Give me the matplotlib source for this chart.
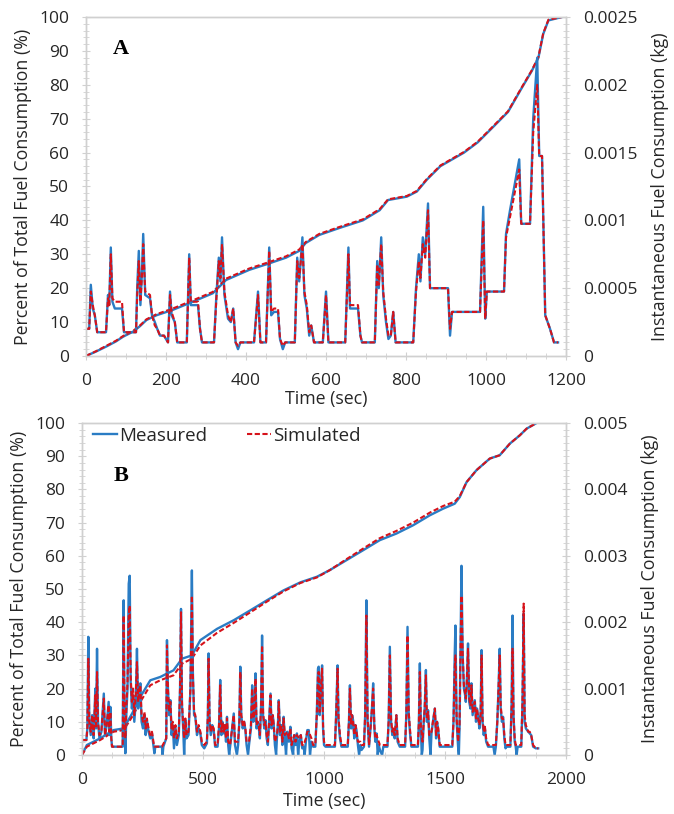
import matplotlib.pyplot as plt
import numpy as np
from matplotlib.ticker import FuncFormatter, MultipleLocator

plt.rcParams['font.family'] = ['Open Sans', 'DejaVu Sans']

# --- Painel A: consumo acumulado (%) -> (tempo s, %)
cum_a_meas = [(0, 0), (25, 1.3), (51, 2.8), (75, 4.3), (93, 5.7), (118, 7.2), (135, 8.8),
              (151, 10.6), (176, 12), (217, 13.6), (267, 16), (317, 18.5), (334, 20.5),
              (350, 22.4), (408, 25.4), (450, 27), (500, 29), (533, 31), (549, 33.3),
              (583, 35.7), (632, 37.7), (692, 40), (734, 43), (755, 46), (802, 47),
              (827, 48.5), (852, 52), (886, 56), (945, 60), (979, 63), (1013, 67),
              (1055, 72), (1089, 79), (1114, 84), (1131, 88), (1143, 95), (1156, 99),
              (1190, 100)]
cum_a_sim = [(0, 0), (25, 1.4), (51, 3.0), (75, 4.5), (93, 5.9), (118, 7.4), (135, 9.0),
             (151, 10.8), (176, 12.3), (217, 14.0), (267, 16.4), (317, 18.9), (334, 20.9),
             (350, 22.8), (408, 25.8), (450, 27.4), (500, 29.4), (533, 31.4), (549, 33.6),
             (583, 36.0), (632, 38.0), (692, 40.3), (734, 43.3), (755, 46.2), (802, 47.2),
             (827, 48.7), (852, 52.2), (886, 56.2), (945, 60.2), (979, 63.2), (1013, 67.2),
             (1055, 72.2), (1089, 79.2), (1114, 84.2), (1131, 88.2), (1143, 95.2),
             (1156, 99.2), (1190, 100)]

# --- Painel A: consumo instantaneo -> (tempo s, kg x 1e-4)
inst_a_meas = [(0, 2.0), (8, 2.0), (12, 5.25), (17, 3.5), (22, 3.0), (28, 1.75), (50, 1.75),
               (55, 4.5), (58, 3.75), (62, 8.0), (66, 4.0), (72, 3.5), (90, 3.5), (95, 1.75),
               (125, 1.75), (128, 5.0), (132, 7.75), (136, 3.75), (140, 6.25), (143, 9.0),
               (148, 4.5), (160, 4.25), (165, 3.0), (172, 2.5), (178, 2.0), (185, 1.5),
               (195, 1.5), (200, 1.25), (205, 1.0), (210, 4.75), (214, 3.0), (222, 2.5),
               (228, 1.0), (252, 1.0), (258, 7.5), (262, 3.75), (280, 3.75), (285, 2.0),
               (290, 1.0), (320, 1.0), (326, 4.5), (332, 7.25), (336, 5.5), (340, 8.75),
               (346, 4.5), (355, 2.75), (362, 2.5), (368, 3.5), (374, 1.0), (380, 0.5),
               (386, 1.0), (420, 1.0), (430, 4.75), (436, 1.0), (450, 1.0), (458, 8.0),
               (463, 3.0), (470, 3.25), (480, 3.25), (485, 1.25), (492, 0.5), (498, 1.0),
               (522, 1.0), (528, 7.25), (533, 5.5), (541, 8.75), (546, 4.5), (552, 3.5),
               (558, 1.5), (563, 2.25), (570, 1.0), (592, 1.0), (600, 4.75), (606, 1.0),
               (648, 1.0), (656, 8.0), (660, 3.5), (680, 3.5), (686, 1.5), (690, 1.0),
               (722, 1.0), (728, 7.0), (732, 5.0), (738, 8.75), (743, 4.5), (750, 2.5),
               (756, 1.25), (762, 1.5), (768, 3.25), (774, 1.0), (818, 1.0), (825, 5.0),
               (832, 7.5), (836, 5.5), (842, 8.75), (848, 7.5), (855, 11.25), (860, 5.0),
               (905, 5.0), (910, 1.5), (915, 3.25), (985, 3.25), (993, 11.0), (998, 2.75),
               (1002, 4.75), (1045, 4.75), (1050, 9.0), (1060, 10.75), (1083, 14.5),
               (1088, 9.75), (1110, 9.75), (1118, 17.5), (1128, 22.0), (1133, 14.75),
               (1140, 14.75), (1148, 3.0), (1160, 2.0), (1170, 1.0), (1180, 1.0)]
inst_a_sim = [(0, 2.0), (8, 2.0), (12, 4.75), (17, 3.75), (22, 3.0), (28, 1.75), (50, 1.75),
              (55, 4.25), (58, 3.75), (62, 7.5), (66, 4.25), (72, 4.0), (90, 4.0), (95, 1.75),
              (125, 1.75), (128, 4.5), (132, 7.0), (136, 4.0), (140, 6.0), (143, 8.25),
              (148, 4.75), (160, 4.5), (165, 3.0), (172, 2.25), (178, 2.0), (185, 1.5),
              (195, 1.5), (200, 1.25), (205, 1.0), (210, 4.5), (214, 3.25), (222, 2.5),
              (228, 1.0), (252, 1.0), (258, 7.25), (262, 4.0), (280, 4.0), (285, 2.0),
              (290, 1.0), (320, 1.0), (326, 4.25), (332, 7.0), (336, 5.75), (340, 8.25),
              (346, 4.75), (355, 3.0), (362, 2.5), (368, 3.5), (374, 1.0), (380, 0.75),
              (386, 1.0), (420, 1.0), (430, 4.5), (436, 1.0), (450, 1.0), (458, 7.75),
              (463, 3.25), (470, 3.5), (480, 3.5), (485, 1.25), (492, 0.75), (498, 1.0),
              (522, 1.0), (528, 7.0), (533, 5.75), (541, 8.25), (546, 4.75), (552, 3.75),
              (558, 1.75), (563, 2.25), (570, 1.0), (592, 1.0), (600, 4.5), (606, 1.0),
              (648, 1.0), (656, 7.5), (660, 3.75), (680, 3.75), (686, 1.5), (690, 1.0),
              (722, 1.0), (728, 6.75), (732, 5.25), (738, 8.25), (743, 4.75), (750, 2.75),
              (756, 1.5), (762, 1.5), (768, 3.25), (774, 1.0), (818, 1.0), (825, 4.75),
              (832, 7.0), (836, 5.75), (842, 8.25), (848, 7.25), (855, 10.75), (860, 5.0),
              (905, 5.0), (910, 2.0), (915, 3.25), (985, 3.25), (993, 10.0), (998, 2.75),
              (1002, 4.75), (1045, 4.75), (1050, 8.75), (1060, 10.25), (1083, 13.75),
              (1088, 9.75), (1110, 9.75), (1118, 16.5), (1128, 20.0), (1133, 14.75),
              (1140, 14.75), (1148, 3.0), (1160, 2.0), (1170, 1.0), (1180, 1.0)]

# --- Painel B: consumo acumulado (%)
cum_b_meas = [(0, 0), (20, 3), (75, 5), (130, 7.5), (172, 8), (207, 12.5), (241, 17.5),
              (282, 22.5), (323, 23.5), (378, 25.5), (413, 29), (454, 30), (489, 34.6),
              (558, 38), (627, 40.6), (696, 43.6), (764, 46.6), (833, 49.6), (902, 52),
              (971, 53.7), (1024, 55.7), (1093, 58.7), (1162, 61.7), (1230, 64.7),
              (1299, 66.7), (1368, 69.2), (1437, 72.2), (1492, 74.2), (1540, 75.7),
              (1561, 77.7), (1589, 82.2), (1630, 85.8), (1685, 89.3), (1726, 90.3),
              (1768, 93.8), (1809, 96.3), (1837, 98.3), (1878, 100)]
cum_b_sim = [(0, 0), (20, 2.5), (75, 4.5), (130, 7), (172, 7.5), (207, 11.5), (241, 16),
             (282, 21), (323, 22.5), (378, 24), (413, 27.5), (454, 29), (489, 33),
             (558, 36.8), (627, 39.8), (696, 43), (764, 46.2), (833, 49.3), (902, 51.8),
             (971, 53.5), (1024, 55.7), (1093, 59), (1162, 62.2), (1230, 65.3),
             (1299, 67.5), (1368, 70), (1437, 73), (1492, 75), (1540, 76.3), (1561, 78),
             (1589, 82.2), (1630, 85.8), (1685, 89.3), (1726, 90.3), (1768, 93.8),
             (1809, 96.3), (1837, 98.3), (1878, 100)]

# --- Painel B: consumo instantaneo (kg x 1e-4)
inst_b_meas = [(0, 2.25), (18, 2.25), (22, 4), (26, 17.8), (30, 5), (36, 3), (42, 6), (48, 2.5),
               (55, 10), (58, 4), (62, 16), (66, 5), (72, 2.5), (80, 3.5), (90, 9.25), (95, 3),
               (102, 4.5), (110, 8), (113, 3), (117, 7.25), (121, 2.5), (124, 1.25),
               (168, 1.25), (172, 23.3), (176, 4), (179, 0.25), (183, 6), (188, 10),
               (193, 25.8), (197, 27), (201, 11), (206, 7), (211, 9), (216, 5), (222, 8),
               (227, 16), (232, 7), (237, 9), (241, 10.8), (246, 5), (252, 4), (258, 6),
               (263, 3), (268, 5.25), (275, 3.5), (282, 2.5), (289, 3.25), (295, 1.5),
               (299, 0.25), (303, 1.25), (330, 1.25), (333, 0), (336, 1.25), (348, 2.5),
               (351, 17.3), (355, 10), (360, 6), (365, 8.25), (370, 3), (375, 4.5), (380, 1),
               (386, 4.25), (392, 1.5), (400, 3), (405, 10), (409, 22), (413, 7.5), (418, 4),
               (422, 0), (427, 5.25), (432, 2.5), (440, 3), (448, 10), (454, 27.8),
               (458, 12.5), (463, 6), (468, 5.75), (475, 3), (482, 4), (489, 3.25),
               (495, 1.5), (505, 1), (516, 1.75), (520, 6), (523, 15.3), (527, 5), (532, 3),
               (538, 4.5), (544, 3.75), (550, 1.25), (560, 1.25), (566, 4), (571, 11.3),
               (576, 3), (580, 5), (585, 3.25), (590, 4.5), (595, 2), (599, 5.75), (604, 1.5),
               (608, 0), (612, 1.25), (620, 4), (627, 6.25), (632, 1.5), (640, 0), (645, 1.5),
               (650, 5), (654, 13.3), (658, 6), (664, 4), (670, 5), (675, 3.75), (680, 1.5),
               (686, 0), (690, 1.5), (698, 4), (703, 10.5), (708, 5), (713, 7), (717, 12.3),
               (721, 4), (726, 5), (730, 4.25), (735, 2.5), (740, 7.5), (744, 18), (748, 6),
               (753, 4), (758, 5.25), (763, 2.5), (768, 1.5), (773, 5), (779, 9.25), (783, 4),
               (788, 6), (792, 4.75), (797, 1.5), (802, 0), (806, 3), (810, 5), (813, 8.25),
               (818, 3), (823, 4.5), (828, 1.5), (833, 5.75), (838, 2.5), (843, 0), (848, 3.5),
               (855, 2), (861, 4.25), (866, 1), (872, 0), (877, 3), (882, 1.5), (888, 3.25),
               (893, 0), (898, 2), (904, 3), (910, 1), (916, 1.25), (920, 0), (925, 2),
               (931, 3.75), (937, 3.75), (942, 0), (948, 2), (955, 1.25), (964, 1.25),
               (970, 6), (975, 13), (978, 13.3), (982, 6), (987, 10), (992, 13.5), (996, 4),
               (1000, 1.5), (1006, 1.25), (1045, 1.25), (1050, 6), (1056, 13.5), (1060, 5),
               (1066, 2.5), (1072, 1.25), (1098, 1.25), (1103, 5), (1107, 10.5), (1112, 4),
               (1116, 6), (1120, 5.25), (1125, 2.5), (1130, 4.5), (1134, 3.75), (1140, 1.5),
               (1145, 0), (1150, 1.5), (1155, 0.75), (1165, 1.25), (1170, 6), (1175, 23.3),
               (1180, 5), (1186, 1.25), (1192, 4), (1198, 7), (1203, 10.8), (1208, 4),
               (1212, 2), (1217, 3.25), (1222, 0), (1226, 1.5), (1231, 0.75), (1240, 0),
               (1245, 1.25), (1262, 1.25), (1267, 5), (1272, 16.3), (1277, 5), (1282, 3),
               (1286, 3.75), (1292, 2.5), (1299, 6), (1304, 2), (1313, 1.25), (1335, 1.25),
               (1340, 6), (1345, 19.3), (1350, 6), (1356, 3), (1361, 1.25), (1388, 1.25),
               (1392, 5), (1396, 13.8), (1400, 4), (1404, 0), (1407, 0.75), (1412, 5),
               (1416, 7), (1421, 12.8), (1425, 5), (1430, 6.75), (1435, 2.5), (1440, 0),
               (1444, 3.25), (1450, 5), (1458, 7), (1463, 2.5), (1467, 5), (1472, 3.75),
               (1478, 1.25), (1530, 1.25), (1535, 5), (1540, 15), (1543, 19.5), (1548, 5),
               (1554, 1.25), (1557, 0), (1560, 4), (1565, 20), (1568, 28.5), (1573, 15),
               (1578, 10), (1582, 9.25), (1586, 8), (1590, 11), (1595, 16.8), (1600, 8),
               (1605, 7), (1609, 10.8), (1614, 6), (1618, 7), (1623, 8.25), (1628, 5),
               (1632, 7), (1637, 5.75), (1642, 4), (1647, 6), (1651, 15.8), (1655, 5),
               (1660, 3), (1664, 4.25), (1670, 2), (1678, 1.25), (1700, 1.25), (1705, 0),
               (1710, 1.25), (1716, 5), (1721, 10), (1726, 16), (1730, 7), (1735, 5),
               (1740, 5.75), (1745, 2.5), (1750, 1), (1754, 1.25), (1770, 1.25), (1775, 7.5),
               (1779, 21), (1783, 6), (1788, 2), (1792, 1.25), (1796, 0), (1800, 1.25),
               (1815, 1.25), (1820, 7.5), (1825, 21.3), (1829, 5), (1834, 4), (1839, 3.75),
               (1844, 3.5), (1850, 3.25), (1856, 3), (1864, 1.25), (1875, 1), (1885, 1)]
inst_b_sim = [(0, 2.25), (18, 2.25), (22, 4), (26, 14.5), (30, 5), (36, 3.5), (42, 6), (48, 3),
              (55, 9), (58, 4), (62, 12.5), (66, 5), (72, 3), (80, 3.5), (90, 8.5), (95, 3),
              (102, 4.5), (110, 7.5), (113, 3.5), (117, 6.5), (121, 2.5), (124, 1.25),
              (168, 1.25), (172, 21), (176, 5), (179, 2.5), (183, 7), (188, 11),
              (193, 21), (197, 22.5), (201, 12), (206, 8), (211, 10), (216, 6), (222, 9),
              (227, 14), (232, 8), (237, 10), (241, 10.5), (246, 6), (252, 5), (258, 6.5),
              (263, 4), (268, 5.5), (275, 4), (282, 3), (289, 3.5), (295, 2), (299, 1.25),
              (330, 1.25), (348, 2.5), (351, 16.5), (355, 10), (360, 6.5), (365, 8),
              (370, 4), (375, 5), (380, 2.5), (386, 4.5), (392, 2.5), (400, 3.5), (405, 10),
              (409, 21.5), (413, 8), (418, 4.5), (422, 2.5), (427, 5.5), (432, 3), (440, 3.5),
              (448, 10), (454, 24), (458, 12), (463, 6.5), (468, 6), (475, 3.5), (482, 4.5),
              (489, 3.5), (495, 2), (505, 1.5), (516, 2), (520, 6), (523, 14.5), (527, 5.5),
              (532, 3.5), (538, 4.5), (544, 4), (550, 1.5), (560, 1.5), (566, 4.5),
              (571, 10.5), (576, 3.5), (580, 5), (585, 3.5), (590, 4.5), (595, 2.5),
              (599, 5.5), (604, 2), (612, 1.5), (620, 4), (627, 6), (632, 2), (645, 2),
              (650, 5), (654, 12.5), (658, 6), (664, 4.5), (670, 5), (675, 4), (680, 2),
              (690, 2), (698, 4.5), (703, 10), (708, 5.5), (713, 7), (717, 11.5), (721, 4.5),
              (726, 5), (730, 4.5), (735, 3), (740, 7.5), (744, 16.5), (748, 6.5), (753, 4.5),
              (758, 5), (763, 3), (768, 2), (773, 5), (779, 9), (783, 4.5), (788, 6),
              (792, 4.5), (797, 2), (806, 3), (810, 5), (813, 8), (818, 3.5), (823, 4.5),
              (828, 2), (833, 5.5), (838, 3), (848, 3.5), (855, 2.5), (861, 4), (866, 1.5),
              (877, 3), (882, 2), (888, 3), (898, 2.5), (904, 3), (910, 1.5), (916, 1.5),
              (925, 2.5), (931, 3.5), (937, 3.5), (948, 2.5), (955, 1.5), (964, 1.5),
              (970, 6), (975, 12), (978, 12.5), (982, 6.5), (987, 10), (992, 13), (996, 4.5),
              (1000, 2), (1006, 1.5), (1045, 1.5), (1050, 6), (1056, 13), (1060, 5.5),
              (1066, 3), (1072, 1.5), (1098, 1.5), (1103, 5), (1107, 10), (1112, 4.5),
              (1116, 6), (1120, 5), (1125, 3), (1130, 4.5), (1134, 3.5), (1140, 2),
              (1150, 2), (1155, 1.5), (1165, 1.5), (1170, 6), (1175, 21), (1180, 5.5),
              (1186, 1.5), (1192, 4), (1198, 7), (1203, 10), (1208, 4.5), (1212, 2.5),
              (1217, 3), (1226, 2), (1231, 1.5), (1245, 1.5), (1262, 1.5), (1267, 5),
              (1272, 15), (1277, 5.5), (1282, 3.5), (1286, 4), (1292, 3), (1299, 6),
              (1304, 2.5), (1313, 1.5), (1335, 1.5), (1340, 6), (1345, 18), (1350, 6.5),
              (1356, 3.5), (1361, 1.5), (1388, 1.5), (1392, 5), (1396, 12.5), (1400, 4.5),
              (1407, 2), (1412, 5), (1416, 7), (1421, 12), (1425, 5.5), (1430, 6.5),
              (1435, 3), (1444, 3.5), (1450, 5), (1458, 7), (1463, 3), (1467, 5),
              (1472, 4), (1478, 1.5), (1530, 1.5), (1535, 5), (1540, 13), (1543, 15),
              (1548, 5.5), (1554, 2), (1560, 4.5), (1565, 18), (1568, 24), (1573, 15),
              (1578, 10.5), (1582, 9.5), (1586, 8.5), (1590, 11), (1595, 16), (1600, 8.5),
              (1605, 7.5), (1609, 10.5), (1614, 6.5), (1618, 7), (1623, 8), (1628, 5.5),
              (1632, 7), (1637, 5.5), (1642, 4.5), (1647, 6), (1651, 15), (1655, 5.5),
              (1660, 3.5), (1664, 4.5), (1670, 2.5), (1678, 1.5), (1700, 1.5), (1710, 1.5),
              (1716, 5), (1721, 10), (1726, 15), (1730, 7.5), (1735, 5.5), (1740, 5.5),
              (1745, 3), (1750, 1.5), (1770, 1.5), (1775, 7), (1779, 16), (1783, 6),
              (1788, 2.5), (1792, 1.5), (1800, 1.5), (1815, 1.5), (1820, 8), (1825, 22.8),
              (1829, 6), (1834, 4.5), (1839, 4), (1844, 3.5), (1850, 3.5), (1856, 3),
              (1864, 1.5), (1875, 1), (1885, 1)]

AZUL = '#2a7cc4'
VERMELHO = '#d6121a'
CINZA = '#d0d0d0'
TEXTO = '#262626'
TRACO = (0, (2.5, 1.2))


def col(pares, escala=1.0):
    """Separa a lista de pares (t, v) em dois arrays"""
    arr = np.array(pares, dtype=float)
    return arr[:, 0], arr[:, 1] * escala


def painel(ax, cum_m, cum_s, inst_m, inst_s, xmax, xstep, rmax, rstep, letra, letra_pos,
           xpad):
    # curvas acumuladas no eixo esquerdo (%)
    t, v = col(cum_m)
    ax.plot(t, v, color=AZUL, lw=1.7, zorder=3)
    t, v = col(cum_s)
    ax.plot(t, v, color=VERMELHO, lw=1.5, ls=TRACO, zorder=4)

    # consumo instantaneo no eixo direito (kg)
    axr = ax.twinx()
    t, v = col(inst_m, 1e-4)
    l1, = axr.plot(t, v, color=AZUL, lw=1.7, label='Measured')
    t, v = col(inst_s, 1e-4)
    l2, = axr.plot(t, v, color=VERMELHO, lw=1.5, ls=TRACO, label='Simulated')

    ax.set_xlim(0, xmax)
    ax.set_ylim(0, 100)
    axr.set_ylim(0, rmax)
    ax.set_xticks(np.arange(0, xmax + 1, xstep))
    ax.set_yticks(np.arange(0, 101, 10))
    axr.set_yticks(np.arange(0, rmax * 1.0001, rstep))
    axr.yaxis.set_major_formatter(FuncFormatter(lambda v, p: '0' if v == 0 else '%g' % v))
    ax.yaxis.set_minor_locator(MultipleLocator(2))
    axr.yaxis.set_minor_locator(MultipleLocator(rmax / 50))
    ax.xaxis.set_minor_locator(MultipleLocator(xstep / 4))

    for a in (ax, axr):
        for s in a.spines.values():
            s.set_color(CINZA)
            s.set_linewidth(1.0)
        a.tick_params(which='both', direction='inout', color=CINZA, labelsize=12.5,
                      labelcolor=TEXTO, pad=9)
        a.tick_params(which='major', length=6)
        a.tick_params(which='minor', length=4)

    ax.set_ylabel('Percent of Total Fuel Consumption (%)', fontsize=12.8, color=TEXTO,
                  labelpad=5)
    axr.set_ylabel('Instantaneous Fuel Consumption (kg)', fontsize=12.8, color=TEXTO,
                   labelpad=10)
    ax.set_xlabel('Time (sec)', fontsize=12.8, color=TEXTO, labelpad=xpad)
    ax.text(letra_pos[0], letra_pos[1], letra, transform=ax.transAxes,
            fontsize=16, fontweight='bold', family='Liberation Serif',
            ha='center', va='center', color='black')
    return axr, l1, l2


fig = plt.figure(figsize=(6.74, 8.14), dpi=100)
axA = fig.add_axes([0.1276, 0.5627, 0.7122, 0.4164])
axB = fig.add_axes([0.1217, 0.0725, 0.7181, 0.4078])

painel(axA, cum_a_meas, cum_a_sim, inst_a_meas, inst_a_sim,
       1200, 200, 0.0025, 0.0005, 'A', (0.073, 0.905), 1)
axrB, l1, l2 = painel(axB, cum_b_meas, cum_b_sim, inst_b_meas, inst_b_sim,
                      2000, 500, 0.005, 0.001, 'B', (0.08, 0.84), 3)

axrB.legend(handles=[l1, l2], loc='upper left', bbox_to_anchor=(-0.012, 1.04), ncol=2,
            frameon=False, fontsize=13.5, handlelength=1.3, handletextpad=0.1,
            columnspacing=2.1, labelcolor=TEXTO)

plt.savefig('out.png', dpi=100)
